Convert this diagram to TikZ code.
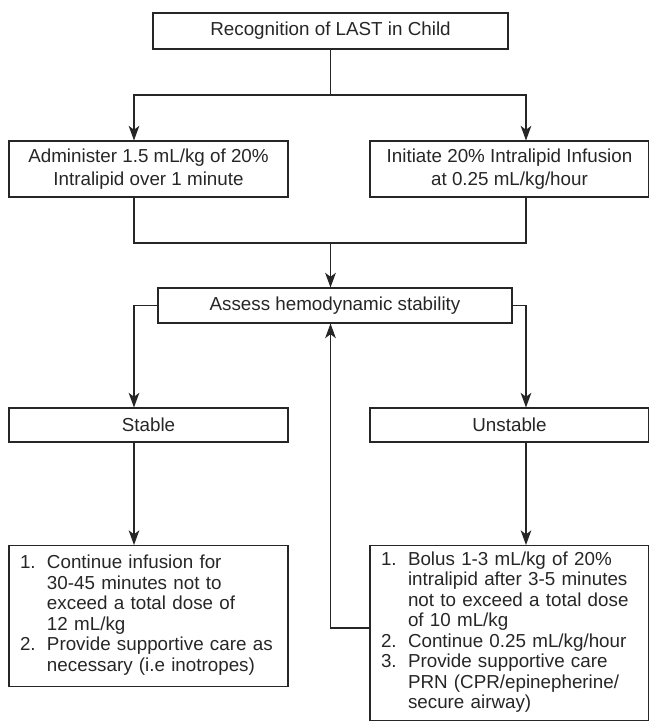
\documentclass[tikz,border=0pt]{standalone}
\usepackage{fontspec}
\setmainfont{Liberation Sans}
\usetikzlibrary{arrows.meta}
\definecolor{ink}{HTML}{262626}

\begin{document}
\begin{tikzpicture}[x=0.75pt, y=-0.75pt,
  flow box/.style={draw=ink, line width=0.8pt, text=ink, align=center, inner sep=2pt, font=\fontsize{14.1}{17.25}\selectfont},
  list box/.style={draw=ink, line width=0.8pt, text=ink, anchor=north, inner xsep=8.25pt, inner ysep=4pt, align=left, text width=192.75pt, font=\fontsize{14.1}{15.4}\selectfont},
  link/.style={draw=ink, line width=0.8pt},
  arrow link/.style={link, -{Stealth[length=11pt, width=8pt, inset=3pt]}}]
\clip (0,0) rectangle (649,725);
\node[flow box, minimum width=266.25pt, minimum height=27pt] (last) at (330.5,31) {Recognition of LAST in Child};
\node[flow box, minimum width=209.25pt, minimum height=42pt] (bolus) at (148.5,169) {Administer 1.5 mL/kg of 20\%\\Intralipid over 1 minute};
\node[flow box, minimum width=209.25pt, minimum height=42pt] (infusion) at (509.5,169) {Initiate 20\% Intralipid Infusion\\at 0.25 mL/kg/hour};
\node[flow box, minimum width=265.5pt, minimum height=26.25pt] (assess) at (335,305.5) {Assess hemodynamic stability};
\node[flow box, minimum width=209.25pt, minimum height=25.5pt] (stable) at (148.5,425) {Stable};
\node[flow box, minimum width=209.25pt, minimum height=25.5pt] (unstable) at (509.5,425) {Unstable};
\node[list box, minimum height=105.75pt] (stablecare) at (148.5,545) {%
\begin{tabular}{@{}p{20.25pt}@{}l@{}}
1. & Continue infusion for\\
   & 30-45 minutes not to\\
   & exceed a total dose of\\
   & 12 mL/kg\\
2. & Provide supportive care as\\
   & necessary (i.e inotropes)
\end{tabular}};
\node[list box] (unstablecare) at (509.5,545) {%
\begin{tabular}{@{}p{20.25pt}@{}l@{}}
1. & Bolus 1-3 mL/kg of 20\%\\
   & intralipid after 3-5 minutes\\
   & not to exceed a total dose\\
   & of 10 mL/kg\\
2. & Continue 0.25 mL/kg/hour\\
3. & Provide supportive care\\
   & PRN (CPR/epinepherine/\\
   & secure airway)
\end{tabular}};

\coordinate (colL) at (134,0);
\coordinate (colR) at (526,0);
\coordinate (split) at (330.5,95);
\coordinate (merge) at (330.5,243);
\coordinate (back) at (330.5,628);

\draw[link] (last) -- (split);
\draw[arrow link] (split) -| (bolus.north -| colL);
\draw[arrow link] (split) -| (infusion.north -| colR);
\draw[link] (bolus.south -| colL) |- (merge);
\draw[link] (infusion.south -| colR) |- (merge);
\draw[arrow link] (merge) -- (assess.north -| merge);
\draw[arrow link] (assess.west) -| (stable.north -| colL);
\draw[arrow link] (assess.east) -| (unstable.north -| colR);
\draw[arrow link] (stable.south -| colL) -- (stablecare.north -| colL);
\draw[arrow link] (unstable.south -| colR) -- (unstablecare.north -| colR);
\draw[arrow link] (unstablecare.west |- back) -| (assess.south -| back);
\end{tikzpicture}
\end{document}
